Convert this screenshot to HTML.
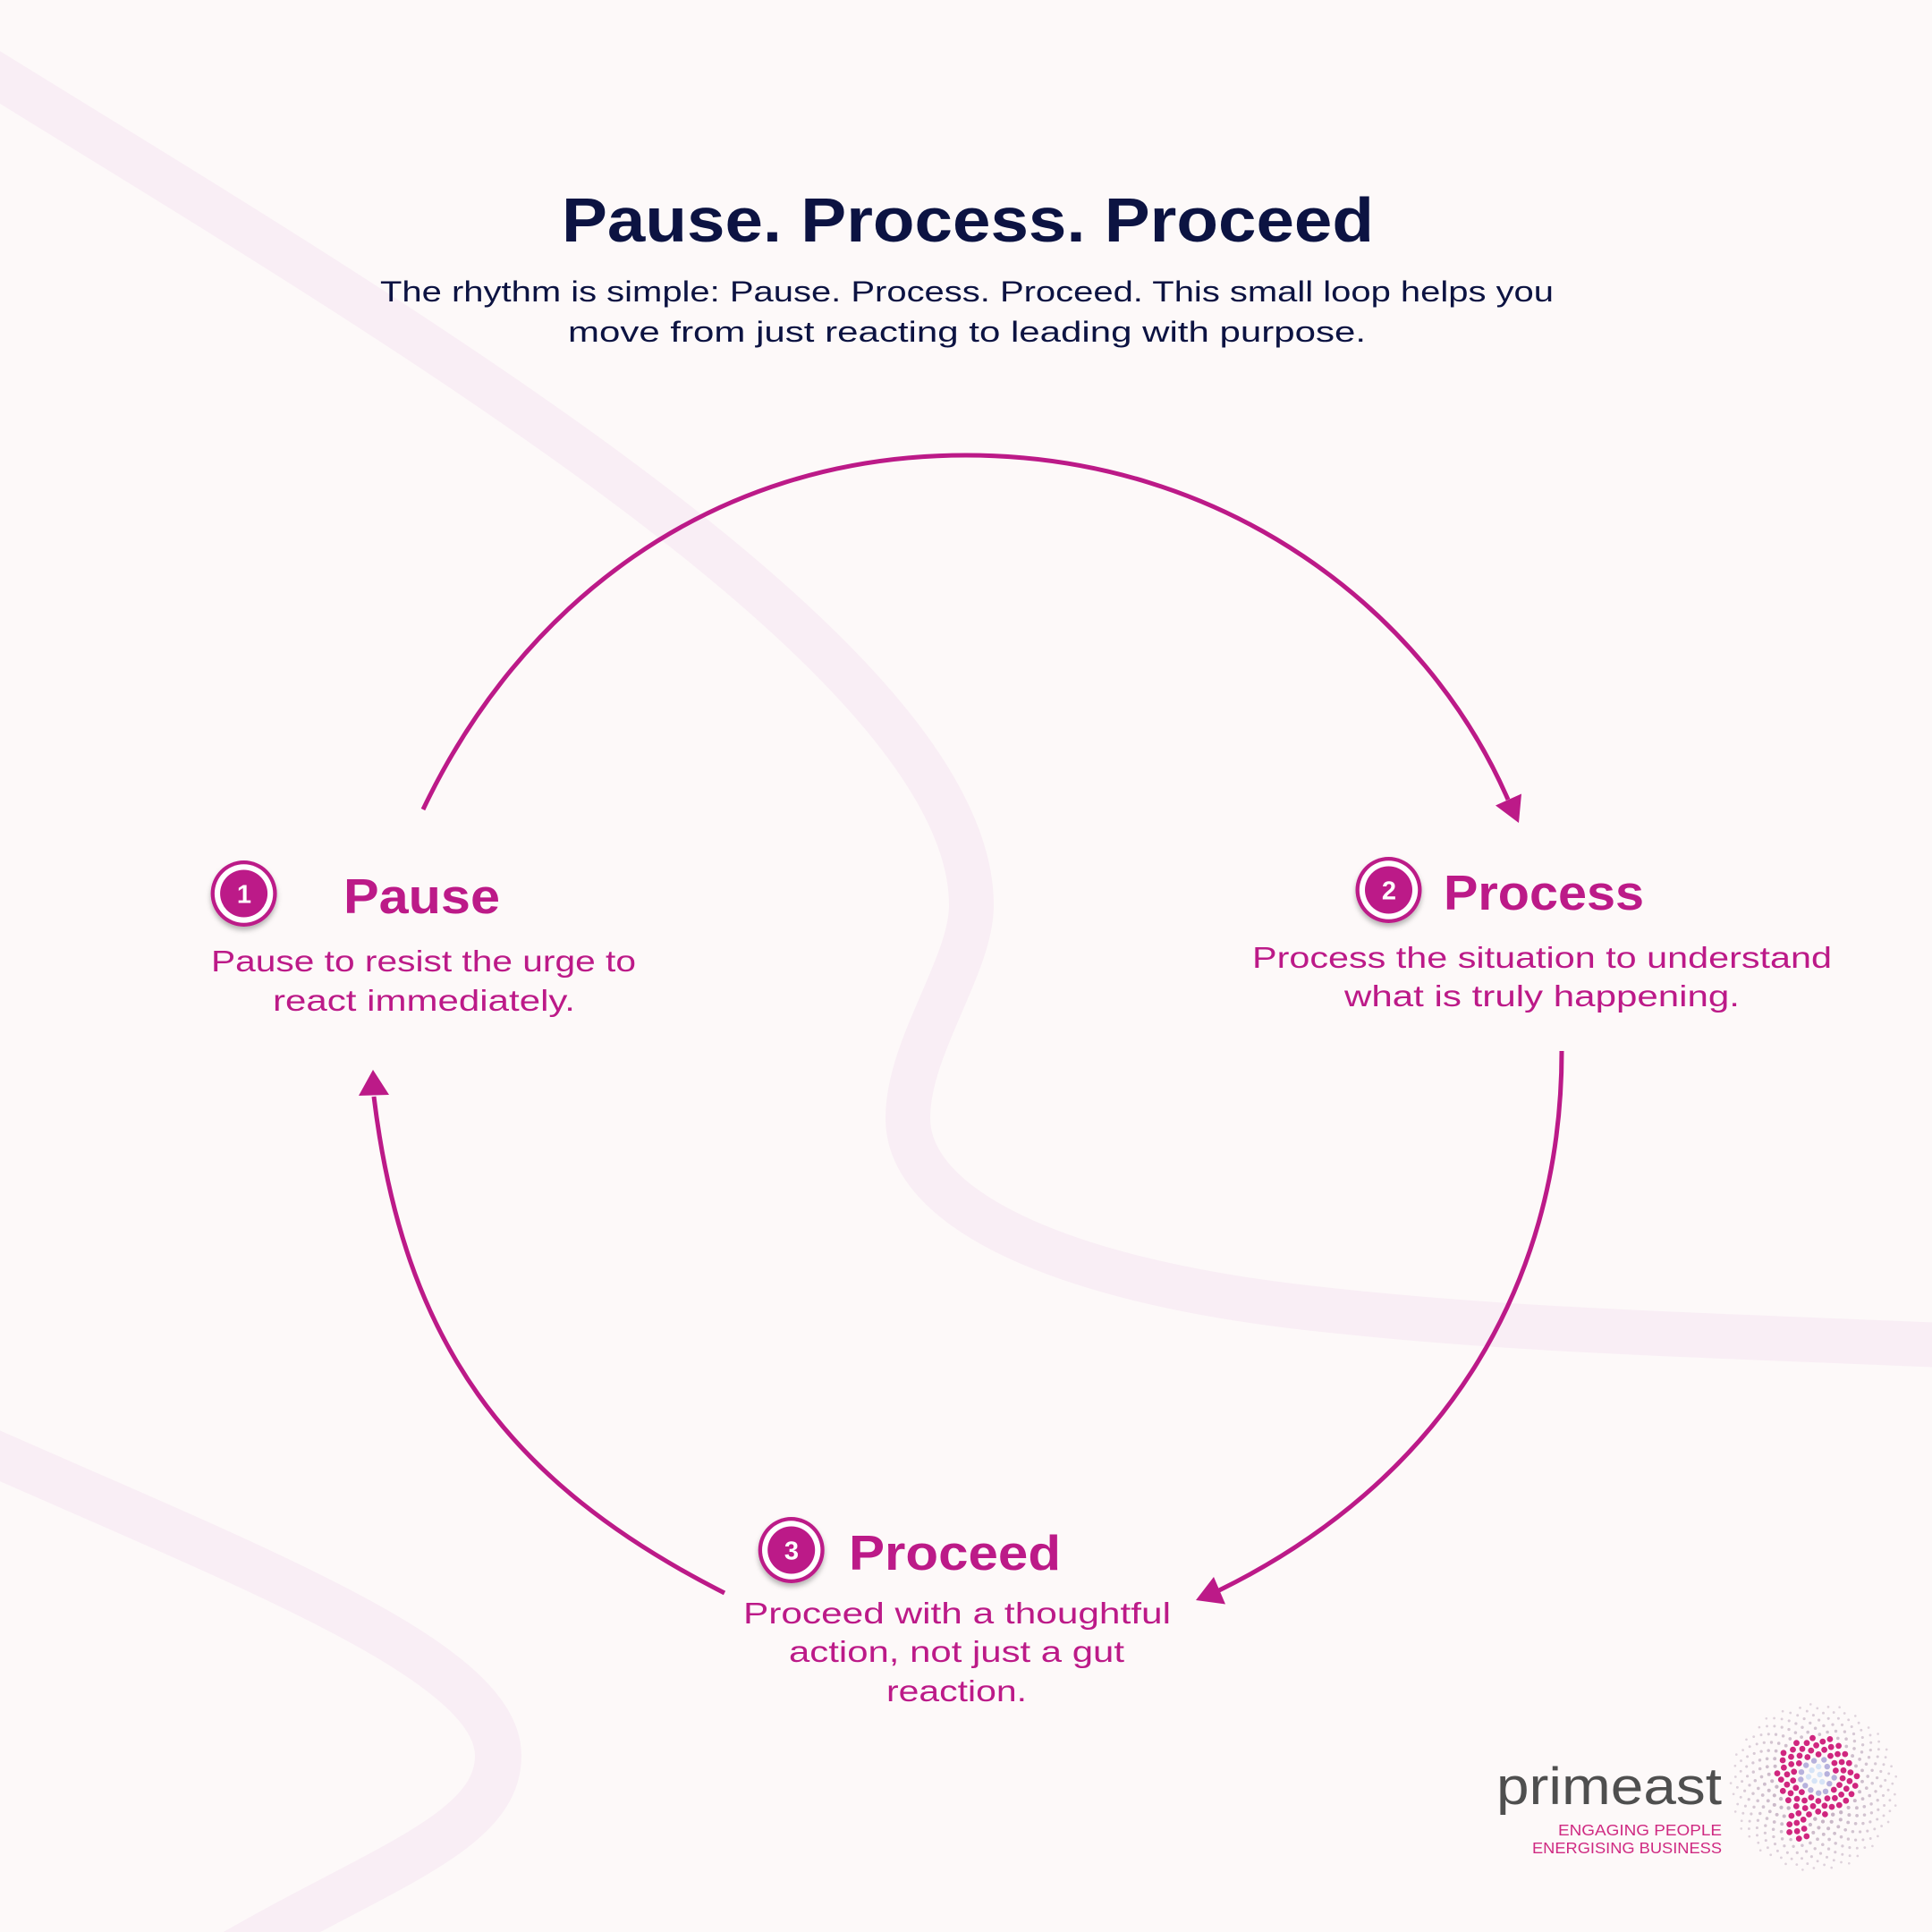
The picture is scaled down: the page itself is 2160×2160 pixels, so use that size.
<!DOCTYPE html>
<html>
<head>
<meta charset="utf-8">
<style>
  html,body{margin:0;padding:0;background:#fdf9f9;}
  svg{display:block;}
  text{font-family:"Liberation Sans",Arial,sans-serif;}
</style>
</head>
<body>
<svg width="2160" height="2160" viewBox="0 0 2160 2160" xmlns="http://www.w3.org/2000/svg">
  <defs>
    <filter id="sh" x="-30%" y="-30%" width="160%" height="170%">
      <feDropShadow dx="0" dy="4" stdDeviation="3" flood-color="#000" flood-opacity="0.28"/>
    </filter>
  </defs>
  <rect width="2160" height="2160" fill="#fdf9f9"/>

  <!-- background swooshes -->
  <path d="M -30 68 C 420 347, 1086 732, 1086 1012 C 1086 1080, 1015 1170, 1015 1250 C 1015 1350, 1180 1430, 1460 1462 C 1700 1489, 1900 1492, 2220 1506"
        fill="none" stroke="#f9eef5" stroke-width="50" stroke-linecap="butt"/>
  <path d="M -20 1619 C 300 1760, 557 1860, 557 1963 C 557 2050, 420 2090, 250 2190"
        fill="none" stroke="#f9eef5" stroke-width="52"/>

  <!-- connectors -->
  <g fill="none" stroke="#bc1a88" stroke-width="5">
    <path d="M 473 905 C 580 680, 790 509, 1080 509 C 1370 509, 1594 682, 1686 894"/>
    <path d="M 1746 1175 C 1746 1445, 1606 1659, 1363 1778"/>
    <path d="M 810 1781 C 565 1657, 451 1498, 418 1226"/>
  </g>
  <g fill="#bc1a88">
    <polygon points="1698,920 1672,900.5 1701,887.5"/>
    <polygon points="1337,1789 1357,1763 1370,1793.5"/>
    <polygon points="417,1196 401,1225 435,1224"/>
  </g>

  <!-- header -->
  <text x="628" y="270" font-size="70" font-weight="bold" fill="#0c1342" textLength="908" lengthAdjust="spacingAndGlyphs">Pause. Process. Proceed</text>
  <text x="425" y="337" font-size="32" fill="#0c1342" textLength="1312" lengthAdjust="spacingAndGlyphs">The rhythm is simple: Pause. Process. Proceed. This small loop helps you</text>
  <text x="635" y="382" font-size="32" fill="#0c1342" textLength="892" lengthAdjust="spacingAndGlyphs">move from just reacting to leading with purpose.</text>

  <!-- badges -->
  <g filter="url(#sh)">
    <circle cx="272.6" cy="999" r="37" fill="#bc1a88"/>
    <circle cx="1552.5" cy="995" r="37" fill="#bc1a88"/>
    <circle cx="884.7" cy="1733" r="37" fill="#bc1a88"/>
  </g>
  <g fill="#ffffff">
    <circle cx="272.6" cy="999" r="32.7"/>
    <circle cx="1552.5" cy="995" r="32.7"/>
    <circle cx="884.7" cy="1733" r="32.7"/>
  </g>
  <g fill="#bc1a88">
    <circle cx="272.6" cy="999" r="26.5"/>
    <circle cx="1552.5" cy="995" r="26.5"/>
    <circle cx="884.7" cy="1733" r="26.5"/>
  </g>
  <g fill="#ffffff" font-size="29" font-weight="bold" text-anchor="middle">
    <text x="273" y="1009.5">1</text>
    <text x="1553" y="1005.5">2</text>
    <text x="885" y="1743.5">3</text>
  </g>

  <!-- Pause -->
  <text x="384" y="1021" font-size="55" font-weight="bold" fill="#bc1a88" textLength="175" lengthAdjust="spacingAndGlyphs">Pause</text>
  <text x="236" y="1086" font-size="33" fill="#bc1a88" textLength="475" lengthAdjust="spacingAndGlyphs">Pause to resist the urge to</text>
  <text x="305" y="1130" font-size="33" fill="#bc1a88" textLength="338" lengthAdjust="spacingAndGlyphs">react immediately.</text>

  <!-- Process -->
  <text x="1614" y="1017" font-size="55" font-weight="bold" fill="#bc1a88" textLength="224" lengthAdjust="spacingAndGlyphs">Process</text>
  <text x="1400" y="1082" font-size="33" fill="#bc1a88" textLength="648" lengthAdjust="spacingAndGlyphs">Process the situation to understand</text>
  <text x="1503" y="1125" font-size="33" fill="#bc1a88" textLength="442" lengthAdjust="spacingAndGlyphs">what is truly happening.</text>

  <!-- Proceed -->
  <text x="949" y="1755" font-size="55" font-weight="bold" fill="#bc1a88" textLength="237" lengthAdjust="spacingAndGlyphs">Proceed</text>
  <text x="831" y="1815" font-size="33" fill="#bc1a88" textLength="478" lengthAdjust="spacingAndGlyphs">Proceed with a thoughtful</text>
  <text x="882" y="1858" font-size="33" fill="#bc1a88" textLength="375" lengthAdjust="spacingAndGlyphs">action, not just a gut</text>
  <text x="991" y="1902" font-size="33" fill="#bc1a88" textLength="157" lengthAdjust="spacingAndGlyphs">reaction.</text>

  <!-- logo -->
  <text x="1673" y="2017" font-size="58" fill="#4f4f4f" textLength="252" lengthAdjust="spacingAndGlyphs">primeast</text>
  <text x="1742" y="2052" font-size="17.5" fill="#cf2a82" textLength="183" lengthAdjust="spacingAndGlyphs">ENGAGING PEOPLE</text>
  <text x="1713" y="2072" font-size="17.5" fill="#cf2a82" textLength="212" lengthAdjust="spacingAndGlyphs">ENERGISING BUSINESS</text>
  <g id="dots"></g>
</svg>
<script>
(function(){
  var g=document.getElementById('dots');
  var cx=2028, cy=1998, R=94, c=4.9;
  var pcx=2031, pcy=1985;
  var out='';
  for(var n=1;n<420;n++){
    var r=c*Math.sqrt(n); if(r>R) break;
    var th=n*2.39996;
    var x=cx+r*Math.cos(th), y=cy+r*Math.sin(th);
    var d=Math.hypot(x-pcx,y-pcy);
    var fill, rad, op=1;
    var tail = x>2000 && x<2022 && y>2015 && y<2056;
    if((d>=22 && d<=45) || tail){ fill='#d0267f'; rad=3.4; }
    else if(d<22){ fill = d<11 ? '#d6e3f6' : '#b7b1dc'; rad=3.2; }
    else { fill='#b49db3'; var f=r/R; rad=2.8-1.5*f; op=1-0.6*f; }
    out+='<circle cx="'+x.toFixed(1)+'" cy="'+y.toFixed(1)+'" r="'+rad.toFixed(2)+'" fill="'+fill+'" opacity="'+op.toFixed(2)+'"/>';
  }
  g.innerHTML=out;
})();
</script>
</body>
</html>
